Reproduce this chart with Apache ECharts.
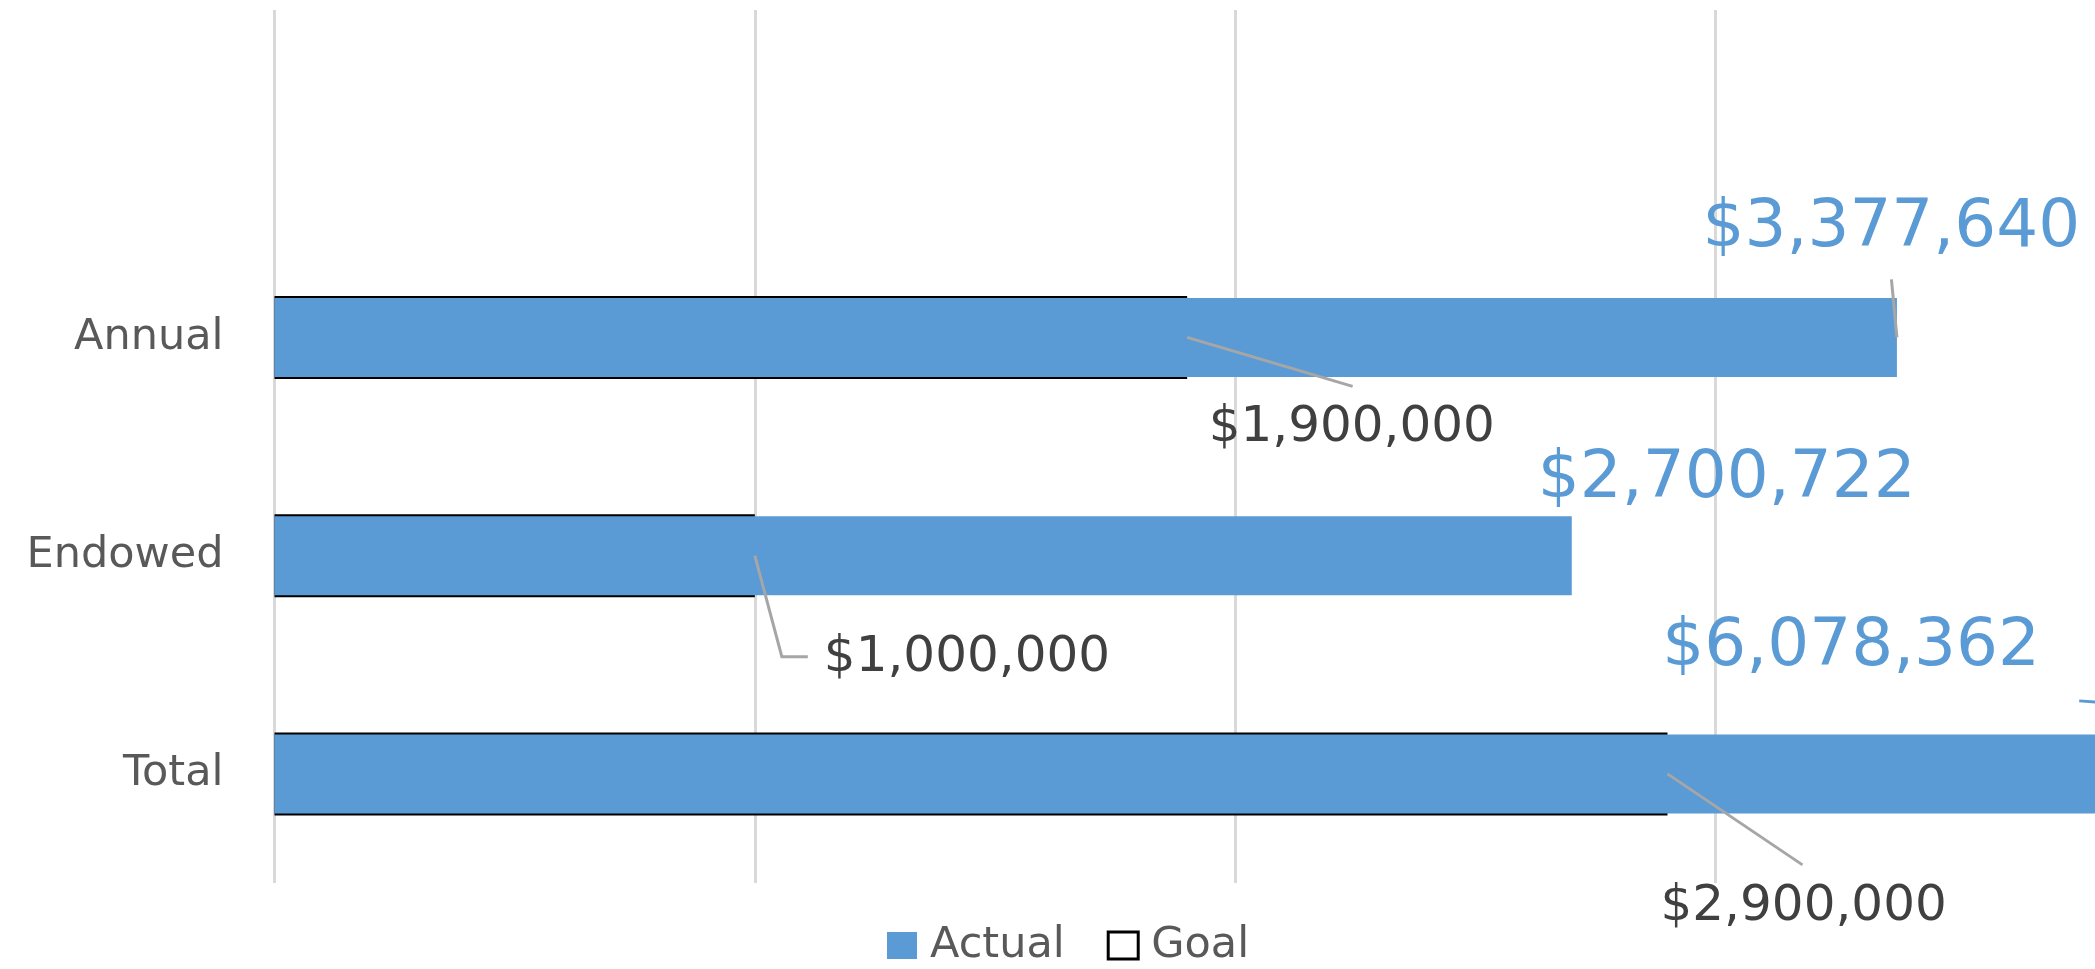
<!DOCTYPE html>
<html>
<head>
<meta charset="utf-8">
<script src="https://cdn.jsdelivr.net/npm/echarts@6/dist/echarts.min.js"></script>
<style>
html,body{margin:0;padding:0;background:#fff;}
#chart{width:2095px;height:969px;}
</style>
</head>
<body>
<div id="chart"></div>
<script>
// Categories listed bottom to top (last one is an empty slot at the top)
var categories = ['Total', 'Endowed', 'Annual', ''];
var actualValues = [6078362, 2700722, 3377640, null];
var goalValues = [2900000, 1000000, 1900000, null];
var axisMin = 0;
var axisMax = 3790000;   // visible part of the axis (chart is cut at the right edge)
var axisInterval = 1000000;

// label placement (pixel offsets relative to each bar's end point)
var actualLabelLayout = [
  {dx: -1532, dy: -126, line: [[-1115, -73]], lineColor: '#5B9BD5'},
  {dx: -34, dy: -76, line: null},
  {dx: -194.5, dy: -109, line: [[-5.5, -58]], lineColor: '#A6A6A6'}
];
var goalLabelLayout = [
  {dx: -7, dy: 133.5, line: [[135, 91]]},
  {dx: 69, dy: 102.5, line: [[27, 101], [53, 101]]},
  {dx: 21.5, dy: 90.5, line: [[165.5, 49]]}
];

function money(v) {
  return '$' + Math.round(v).toLocaleString('en-US');
}

var FONT = 'DejaVu Sans';
var BLUE = '#5B9BD5';

var labelData = [];
for (var i = 0; i < 3; i++) {
  labelData.push([actualValues[i], i, 0]);
  labelData.push([goalValues[i], i, 1]);
}

var yAxisBase = {
  type: 'category',
  data: categories,
  axisLine: {show: false},
  axisTick: {show: false}
};

var chart = echarts.init(document.getElementById('chart'), null, {renderer: 'canvas'});
chart.setOption({
  animation: false,
  backgroundColor: '#ffffff',
  grid: {left: 274.5, top: 10, right: 0, height: 873, containLabel: false},
  xAxis: {
    type: 'value',
    min: axisMin, max: axisMax, interval: axisInterval,
    axisLine: {show: false},
    axisTick: {show: false},
    axisLabel: {show: false},
    splitLine: {show: true, showMaxLine: false, lineStyle: {color: '#D9D9D9', width: 3}}
  },
  yAxis: [
    Object.assign({}, yAxisBase, {
      axisLabel: {color: '#595959', fontSize: 43, fontFamily: FONT, margin: 51}
    }),
    Object.assign({}, yAxisBase, {
      position: 'left', show: false, axisLabel: {show: false}
    })
  ],
  legend: {
    left: 887, top: 924, padding: 0,
    itemWidth: 30, itemHeight: 27, itemGap: 42,
    textStyle: {color: '#595959', fontSize: 43, fontFamily: FONT, padding: [0, 0, 0, 8]},
    data: [
      {name: 'Actual', icon: 'rect', itemStyle: {color: BLUE, borderWidth: 0}},
      {name: 'Goal', icon: 'rect', itemStyle: {color: '#ffffff', borderColor: '#000000', borderWidth: 3}}
    ]
  },
  series: [
    {
      name: 'Goal', type: 'bar', data: goalValues, yAxisIndex: 1,
      barWidth: 83, z: 2,
      itemStyle: {color: 'rgba(255,255,255,0)', borderColor: '#000000', borderWidth: 3}
    },
    {
      name: 'Actual', type: 'bar', data: actualValues, yAxisIndex: 0,
      barWidth: 79, z: 3,
      itemStyle: {color: BLUE}
    },
    {
      name: 'labels', type: 'custom', clip: false, z: 10,
      data: labelData,
      encode: {x: 0, y: 1},
      renderItem: function (params, api) {
        var v = api.value(0), c = api.value(1), kind = api.value(2);
        var p = api.coord([v, c]);
        var lay = kind === 0 ? actualLabelLayout[c] : goalLabelLayout[c];
        var children = [];
        if (lay.line) {
          var pts = [[p[0], p[1]]];
          lay.line.forEach(function (o) { pts.push([p[0] + o[0], p[1] + o[1]]); });
          children.push({
            type: 'polyline',
            shape: {points: pts},
            style: {stroke: kind === 0 ? lay.lineColor : '#A6A6A6', lineWidth: 3, fill: null}
          });
        }
        children.push({
          type: 'text',
          x: p[0] + lay.dx, y: p[1] + lay.dy,
          style: {
            text: money(v),
            fill: kind === 0 ? BLUE : '#404040',
            fontSize: kind === 0 ? 66 : 50,
            fontFamily: FONT,
            align: 'left', verticalAlign: 'middle'
          }
        });
        return {type: 'group', children: children};
      }
    }
  ]
});
</script>
</body>
</html>
